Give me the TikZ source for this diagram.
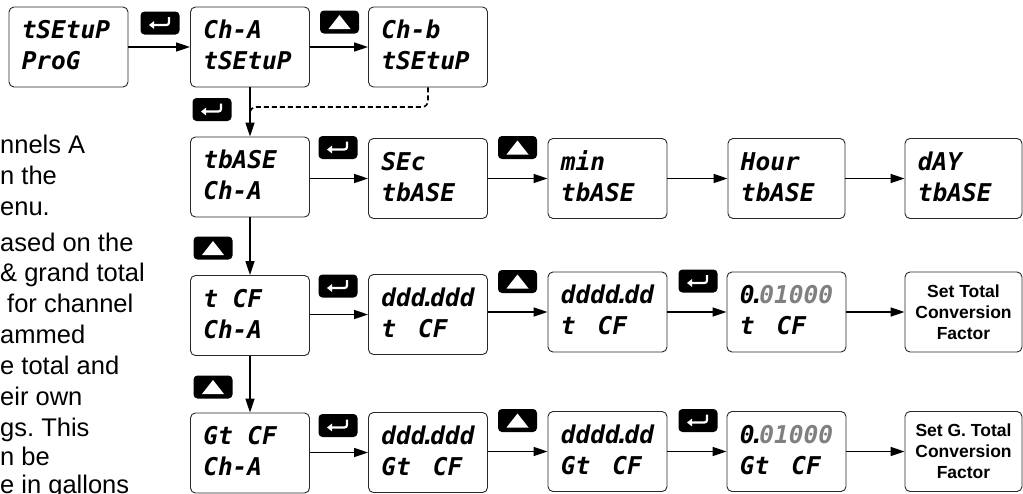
\documentclass[tikz,border=0pt]{standalone}
\usepackage{fontspec}
\setmainfont{Liberation Sans}
\newfontfamily\lcdfont{DejaVu Sans Mono}
\usetikzlibrary{arrows.meta}
\frenchspacing
\definecolor{lcdgray}{RGB}{128,128,128}
\definecolor{boxline}{RGB}{40,40,40}
\newcommand\lcddot{\kern-0.2em.\kern-0.2em}
\newcommand\lcdgap{\kern0.3em}
\tikzset{
  disp/.style={draw=boxline, line width=0.9pt, rounded corners=5pt, minimum width=#1, minimum height=80pt, inner sep=0pt, fill=white},
  disp/.default=119pt,
  lcd/.style={font=\lcdfont\bfseries\itshape\fontsize{24.5}{24}\selectfont, anchor=base west, inner sep=0pt},
  note/.style={font=\bfseries\fontsize{17.5}{21}\selectfont, align=center},
  conn/.style={line width=1.6pt, -{Triangle[length=14pt,width=9pt]}},
  dconn/.style={line width=1.6pt, dash pattern=on 5pt off 3pt, rounded corners=6pt},
  keybox/.style={fill=black, rounded corners=4pt, minimum width=39pt, minimum height=23pt, inner sep=0pt},
  keysym/.style={white, line width=2.2pt},
  side/.style={font=\fontsize{25.5}{30}\selectfont, anchor=base west, inner sep=0pt},
}
\newcommand\lcdbox[6][119pt]{%
  \node[disp=#1] (#2) at (#3,#4) {};
  \node[lcd] (#2-a) at ([shift={(13,32)}]#2.north west) {#5};
  \node[lcd] (#2-b) at ([shift={(13,63)}]#2.north west) {#6};
}
\newcommand\enterkey[3]{%
  \node[keybox] (#1) at (#2,#3) {};
  \draw[keysym, rounded corners=2.5pt, -{Triangle[length=5pt,width=7.5pt]}]
    ([shift={(9,-6)}]#1.center) -- ([shift={(9,2)}]#1.center) -- ([shift={(-11,2)}]#1.center);
}
\newcommand\upkey[3]{%
  \node[keybox] (#1) at (#2,#3) {};
  \fill[white] ([shift={(-11,7)}]#1.center) -- ([shift={(11,7)}]#1.center) -- ([shift={(0,-7)}]#1.center) -- cycle;
}
\begin{document}
\begin{tikzpicture}[x=1pt,y=-1pt]
\useasboundingbox (0,0) rectangle (1023,493);
% partial side text
\node[side] (s1) at (0,153) {nnels A};
\node[side] (s2) at (0,184) {n the};
\node[side] (s3) at (0,215) {enu.};
\node[side] (s4) at (0,251) {ased on the};
\node[side] (s5) at (0,281) {\& grand total};
\node[side] (s6) at (7,312) {for channel};
\node[side] (s7) at (0,343) {ammed};
\node[side] (s8) at (0,374) {e total and};
\node[side] (s9) at (0,405) {eir own};
\node[side] (s10) at (0,436) {gs. This};
\node[side] (s11) at (0,465) {n be};
\node[side] (s12) at (0,493) {e in gallons};
% row 1
\lcdbox{A}{68.5}{47}{tSEtuP}{ProG}
\lcdbox{B}{250}{47}{Ch-A}{tSEtuP}
\lcdbox{C}{428}{47}{Ch-b}{tSEtuP}
% row 2
\lcdbox{T1}{250}{177}{tbASE}{Ch-A}
\lcdbox{T2}{428}{178.5}{SEc}{tbASE}
\lcdbox{T3}{607.5}{178.5}{min}{tbASE}
\lcdbox[117pt]{T4}{786.5}{178.5}{Hour}{tbASE}
\lcdbox[117pt]{T5}{963.5}{178.5}{dAY}{tbASE}
% row 3
\lcdbox{F1}{250}{315.5}{t CF}{Ch-A}
\lcdbox{F2}{428}{314.5}{ddd\lcddot ddd}{t\lcdgap{} CF}
\lcdbox{F3}{607.5}{312}{dddd\lcddot dd}{t\lcdgap{} CF}
\lcdbox{F4}{786.5}{312}{0\lcddot\textcolor{lcdgray}{01000}}{t\lcdgap{} CF}
\node[disp=117pt, note] (F5) at (963.5,312) {Set Total\\Conversion\\Factor};
% row 4
\lcdbox{G1}{250}{453}{Gt CF}{Ch-A}
\lcdbox{G2}{428}{452.5}{ddd\lcddot ddd}{Gt\lcdgap{} CF}
\lcdbox{G3}{607.5}{451.5}{dddd\lcddot dd}{Gt\lcdgap{} CF}
\lcdbox{G4}{786.5}{451.5}{0\lcddot\textcolor{lcdgray}{01000}}{Gt\lcdgap{} CF}
\node[disp=117pt, note] (G5) at (963.5,451.5) {Set G. Total\\Conversion\\Factor};
% connectors
\draw[conn] (A.east) -- (B.west);
\draw[conn] (B.east) -- (C.west);
\draw[conn] (B.south) -- (T1.north);
\coordinate (dk) at (428,107);
\coordinate (dj) at (250,118);
\draw[dconn] (C.south) -- (dk) -| (dj);
\draw[conn] (T1.east |- T2.west) -- (T2.west);
\draw[conn] (T2.east |- T3.west) -- (T3.west);
\draw[conn] (T3.east |- T4.west) -- (T4.west);
\draw[conn] (T4.east |- T5.west) -- (T5.west);
\draw[conn] (T1.south) -- (F1.north);
\draw[conn] (F1.east |- F2.west) -- (F2.west);
\draw[conn] (F2.east |- F3.west) -- (F3.west);
\draw[conn] (F3.east |- F4.west) -- (F4.west);
\draw[conn] (F4.east |- F5.west) -- (F5.west);
\draw[conn] (F1.south) -- (G1.north);
\draw[conn] (G1.east |- G2.west) -- (G2.west);
\draw[conn] (G2.east |- G3.west) -- (G3.west);
\draw[conn] (G3.east |- G4.west) -- (G4.west);
\draw[conn] (G4.east |- G5.west) -- (G5.west);
% keys
\enterkey{k1}{160}{23}
\upkey{k2}{339.5}{22}
\enterkey{k3}{212}{109.5}
\enterkey{k4}{338}{147.5}
\upkey{k5}{517.5}{147.5}
\upkey{k6}{213}{248}
\enterkey{k7}{338}{286}
\upkey{k8}{517.5}{281.5}
\enterkey{k9}{698}{281}
\upkey{k10}{213}{387}
\enterkey{k11}{338}{425.5}
\upkey{k12}{517.5}{420.5}
\enterkey{k13}{698}{420.5}
\end{tikzpicture}
\end{document}
